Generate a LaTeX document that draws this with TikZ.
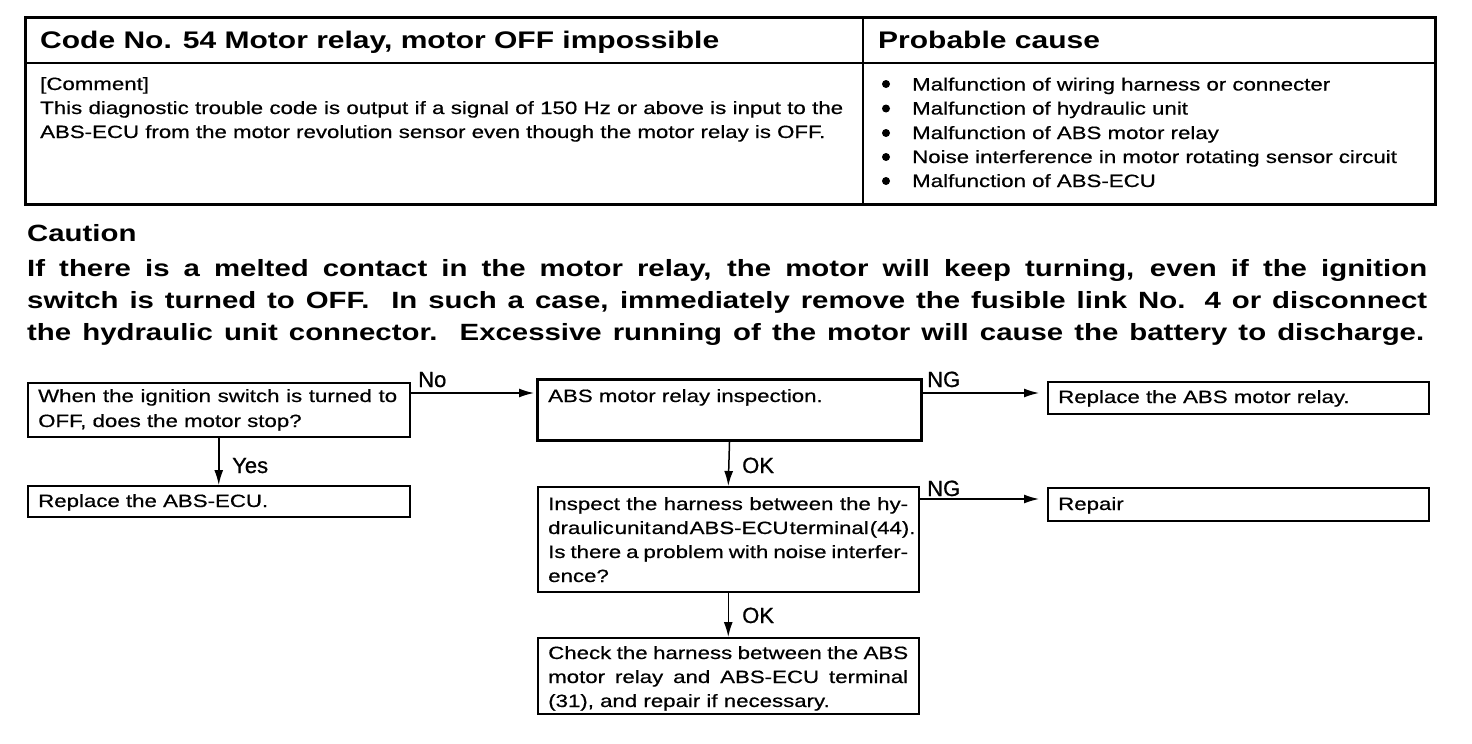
\documentclass[tikz,border=0pt]{standalone}
\usepackage{fontspec}
\setmainfont{Liberation Sans}[FakeStretch=1.25, UprightFeatures={FakeBold=0.6}]
\newfontfamily\labfont{Liberation Sans}[FakeBold=0.8]
\usetikzlibrary{arrows.meta}
\newcommand{\bodysize}{\fontsize{17.8pt}{24pt}\selectfont}
\newcommand{\jl}[2]{\makebox[#1][s]{#2}}
\begin{document}
\begin{tikzpicture}[x=1pt,y=-1pt,
  txt/.style={anchor=base west, inner sep=0, font=\bodysize},
  hdr/.style={anchor=base west, inner sep=0, font=\fontsize{24pt}{24pt}\selectfont\bfseries},
  caut/.style={anchor=base west, inner sep=0, font=\fontsize{23.5pt}{32pt}\selectfont\bfseries},
  lab/.style={anchor=base west, inner sep=0, font=\labfont\fontsize{22pt}{22pt}\selectfont},
  box/.style={draw, line width=1.5pt, anchor=north west, inner sep=0},
  arr/.style={-{Latex[length=15pt,width=9pt]}, line width=1.5pt},
  dot/.style={circle, fill, inner sep=0, minimum size=8pt}
]
\useasboundingbox (0,0) rectangle (1472,744);
\fill[white] (0,0) rectangle (1472,744);

% ---- table ----
\node[draw, line width=2.5pt, anchor=north west, inner sep=0, minimum width=1410pt, minimum height=187pt] (tab) at (24,16) {};
\draw[line width=1.6pt] (24,63) -- (1434,63);
\draw[line width=1.6pt] (863,16) -- (863,203);

\node[hdr] (h1) at (40,48) {Code No. 54 Motor relay, motor OFF impossible};
\node[hdr] (h2) at (878,48) {Probable cause};

\node[txt] (c0) at (40,90) {[Comment]};
\node[txt] (c1) at (40,114) {\jl{803pt}{This diagnostic trouble code is output if a signal of 150 Hz or above is input to the}};
\node[txt] (c2) at (40,138) {ABS-ECU from the motor revolution sensor even though the motor relay is OFF.};

\node[dot] (d1) at (886,84) {};
\node[dot] (d2) at (886,108.5) {};
\node[dot] (d3) at (886,133) {};
\node[dot] (d4) at (886,157) {};
\node[dot] (d5) at (886,181) {};
\node[txt] (p1) at (912,90.5) {Malfunction of wiring harness or connecter};
\node[txt] (p2) at (912,114.5) {Malfunction of hydraulic unit};
\node[txt] (p3) at (912,139) {Malfunction of ABS motor relay};
\node[txt] (p4) at (912,163) {Noise interference in motor rotating sensor circuit};
\node[txt] (p5) at (912,187) {Malfunction of ABS-ECU};

% ---- caution ----
\node[caut] (ct) at (27,241) {Caution};
\node[caut] (ca1) at (27,276) {\jl{1400pt}{If there is a melted contact in the motor relay, the motor will keep turning, even if the ignition}};
\node[caut] (ca2) at (27,308) {\jl{1400pt}{switch is turned to OFF.\ \ In such a case, immediately remove the fusible link No. 4 or disconnect}};
\node[caut] (ca3) at (27,340) {\jl{1397pt}{the hydraulic unit connector.\ \ Excessive running of the motor will cause the battery to discharge.}};

% ---- flowchart boxes ----
\node[box, minimum width=382pt, minimum height=54pt] (b1) at (27,382) {};
\node[box, line width=3pt, minimum width=384pt, minimum height=61pt] (abs) at (536,378) {};
\node[box, minimum width=381pt, minimum height=32pt] (rr) at (1047,381) {};
\node[box, minimum width=382pt, minimum height=31pt] (ecu) at (27,485) {};
\node[box, minimum width=381pt, minimum height=105pt] (ins) at (537,486) {};
\node[box, minimum width=381pt, minimum height=33pt] (rep) at (1047,487) {};
\node[box, minimum width=381pt, minimum height=76pt] (chk) at (537,637) {};

% ---- flowchart texts ----
\node[txt] (t1a) at (38,402) {\jl{359pt}{When the ignition switch is turned to}};
\node[txt] (t1b) at (38,427) {OFF, does the motor stop?};
\node[txt] (t2) at (548,402) {ABS motor relay inspection.};
\node[txt] (t3) at (1058,403) {Replace the ABS motor relay.};
\node[txt] (t4) at (38,507) {Replace the ABS-ECU.};
\node[txt] (t5a) at (548,510) {\jl{360pt}{Inspect the harness between the hy-}};
\node[txt] (t5b) at (548,534) {\jl{360pt}{draulic\hspace{1pt}unit\hspace{1pt}and\hspace{1pt}ABS-ECU\hspace{1pt}terminal\hspace{1pt}(44).}};
\node[txt] (t5c) at (548,558) {\jl{360pt}{Is there a problem with noise interfer-}};
\node[txt] (t5d) at (548,582) {ence?};
\node[txt] (t6) at (1058,510) {Repair};
\node[txt] (t7a) at (548,659) {\jl{360pt}{Check the harness between the ABS}};
\node[txt] (t7b) at (548,683) {\jl{360pt}{motor relay and ABS-ECU terminal}};
\node[txt] (t7c) at (548,707) {(31), and repair if necessary.};

% ---- connectors ----
\draw[arr, shorten >=2pt] ([yshift=-11pt]b1.north east) -- ([yshift=-11pt]b1.north east -| abs.west);
\draw[arr, shorten >=8pt] ([yshift=-15pt]abs.north east) -- ([yshift=-15pt]abs.north east -| rr.west);
\draw[arr, shorten >=8pt] ([yshift=-13pt]ins.north east) -- ([yshift=-13pt]ins.north east -| rep.west);
\draw[arr] (b1.south) -- (ecu.north);
\draw[arr] (abs.south) -- (ins.north);
\draw[arr] (ins.south) -- (chk.north);

% ---- labels ----
\node[lab] (lno) at (418,387) {No};
\node[lab] (lng1) at (927,387) {NG};
\node[lab] (lyes) at (232,473) {Yes};
\node[lab] (lok1) at (742,473) {OK};
\node[lab] (lng2) at (927,496) {NG};
\node[lab] (lok2) at (742,623) {OK};
\end{tikzpicture}
\end{document}
